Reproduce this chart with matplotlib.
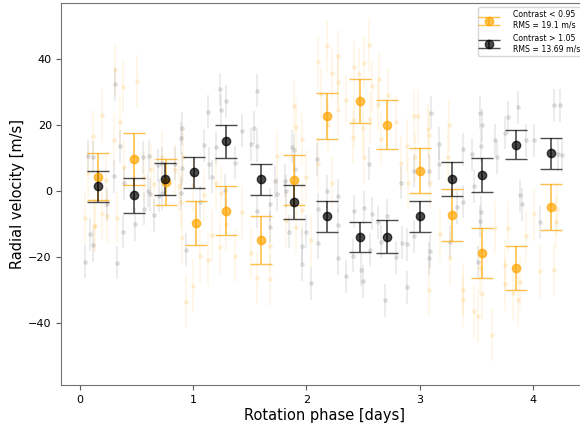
import numpy as np
import matplotlib
matplotlib.use("Agg")
import matplotlib.pyplot as plt

# binned RVs, low contrast (orange)
lo_phase = [0.165, 0.48, 0.76, 1.03, 1.29, 1.60, 1.89, 2.18, 2.47, 2.71, 3.00, 3.28, 3.55, 3.85, 4.16]
lo_rv = [4.5, 9.8, 2.8, -9.6, -5.8, -14.7, 3.5, 22.9, 27.5, 20.2, 6.3, -7.1, -18.7, -23.2, -4.8]
lo_err = [7.0, 8.0, 7.0, 6.8, 7.4, 7.3, 7.5, 6.9, 6.7, 7.4, 6.7, 7.9, 7.6, 6.7, 7.0]

# binned RVs, high contrast (dark)
hi_phase = [0.165, 0.48, 0.756, 1.01, 1.29, 1.60, 1.89, 2.18, 2.47, 2.71, 3.00, 3.28, 3.55, 3.85, 4.16]
hi_rv = [1.5, -1.2, 3.8, 5.8, 15.2, 3.6, -3.3, -7.6, -13.8, -13.8, -7.5, 3.7, 5.0, 14.2, 11.5]
hi_err = [4.8, 5.4, 4.8, 4.7, 5.0, 4.8, 5.1, 4.8, 4.6, 5.0, 4.7, 5.2, 5.1, 4.5, 4.7]

# individual RVs, low contrast
lo_pts_phase = [0.31, 0.38, 0.51, 0.20, 0.12, 0.30, 0.36, 0.39, 0.07, 0.23, 0.57, 0.63, 0.66, 0.73,
                0.84, 0.88, 0.91, 1.00, 1.10, 1.20, 1.25,
                2.18, 2.10, 2.28, 2.23, 2.28, 2.13, 2.19, 2.28, 2.35, 2.42, 2.46, 2.51, 2.55, 2.58,
                2.64, 2.63, 2.42, 2.41, 2.50, 2.56, 2.66, 2.72, 2.79, 2.51, 1.89, 1.91, 1.96, 1.74,
                2.10, 2.00, 2.23, 2.89, 2.83,
                2.95, 2.98, 3.07, 3.08, 3.26, 3.25, 2.96, 2.90, 3.09,
                0.05, 0.13, 0.14, 0.20, 0.24, 0.33, 0.89, 0.90, 1.00, 0.94, 1.06, 1.13, 1.17, 1.24,
                1.29, 1.37,
                1.43, 1.51, 1.56, 1.68, 1.68, 1.82, 1.91, 2.04, 1.96,
                3.08, 3.18, 3.27, 3.38, 3.38, 3.48, 3.51, 3.55, 3.64, 3.53, 3.66, 3.78, 3.75, 3.75,
                3.82, 3.87, 3.88, 3.94, 4.01, 4.06, 4.18, 4.20, 4.21]
lo_pts_rv = [36.8, 31.7, 33.4, 23.1, 16.8, 15.5, 21.0, 7.5, 5.6, 3.4, 4.4, 6.7, 2.2, 10.3,
             6.5, 1.6, 10.5, 1.8, -1.2, 2.4, -0.4,
             44.0, 39.2, 41.0, 35.9, 33.3, 29.5, 20.0, 24.8, 27.7, 37.6, 35.5, 39.0, 44.4, 31.9,
             34.2, 26.2, 21.6, 16.4, 19.2, 22.0, 15.8, 29.3, 21.0, 10.3, 25.8, 19.6, 15.9, 10.7,
             8.3, 4.4, 2.6, 13.9, 8.7,
             22.8, 22.8, 18.8, 17.0, 20.0, 10.5, 10.5, 2.6, 2.6,
             -8.0, -10.4, -10.4, -6.8, -7.6, -8.0, -3.1, -14.1, -28.6, -33.5, -19.7, -20.7, -13.2, -16.9,
             -10.0, -19.5,
             -6.4, -18.7, -26.2, -26.6, -16.5, -8.8, -10.8, -14.8, -5.6,
             -29.8, -13.0, -20.3, -29.8, -33.0, -36.3, -37.9, -31.0, -43.5, -23.3, -11.0, -11.0, -22.3, -28.2,
             -30.8, -32.8, -27.6, -13.6, -7.0, -24.2, -23.8, -9.4, -5.2]

# individual RVs, high contrast
hi_pts_phase = [0.07, 0.12, 0.31, 0.36, 0.30, 0.39, 0.56, 0.61, 0.60, 0.62, 0.69, 0.73, 0.73, 0.84,
                0.89, 0.90, 0.90, 0.89, 1.10, 1.13, 1.14, 1.17, 1.20, 1.24, 1.25, 1.29, 1.37, 1.28,
                1.56, 1.43, 1.54, 1.51, 1.56, 1.87, 1.89, 1.90, 1.72, 1.74, 1.82, 1.81, 2.09, 2.18,
                2.28, 2.55, 2.83,
                3.10, 3.17, 3.17, 2.95, 3.08, 3.38, 3.46, 3.53, 3.55, 3.54, 3.66, 3.68, 3.78, 3.75,
                3.87, 3.94, 4.01, 4.18, 4.24, 4.22, 4.25, 3.48, 3.88,
                0.05, 0.09, 0.12, 0.24, 0.33, 0.38, 0.49, 0.57, 0.66, 0.70, 0.94, 1.06,
                1.56, 1.68, 1.68, 1.85, 1.96, 1.96, 2.04, 2.00, 2.10, 2.10, 2.28, 2.28, 2.35, 2.41,
                2.42, 2.48, 2.50, 2.51, 2.56, 2.58, 2.63, 2.66, 2.69, 2.71, 2.79, 2.84, 2.89, 2.89,
                2.95, 3.08, 3.09, 3.27, 3.33, 3.38, 3.54, 3.53, 3.51, 3.90, 4.06]
hi_pts_rv = [10.7, 10.3, 32.5, 13.7, 4.6, 2.4, 10.3, 10.7, 0.2, -0.8, 7.9, 8.5, -0.5, 8.3,
             16.1, 19.1, 7.0, -0.6, 14.0, 24.2, 8.3, 4.4, 13.3, 30.9, 24.6, 27.3, 8.7, 0.4,
             30.5, 18.3, 19.3, 14.3, 13.9, 13.5, 12.5, 6.7, 3.0, -0.8, 0.0, 3.2, 9.7, 0.0,
             -1.3, 8.3, 2.6,
             23.8, 14.5, 8.3, 6.2, 6.2, 12.7, 11.3, 23.8, 20.0, 13.9, 15.5, 10.3, 22.4, 17.8,
             25.5, 15.5, 15.5, 26.1, 26.1, 11.3, 10.9, 1.6, -1.2,
             -21.3, -13.0, -16.3, -3.9, -21.7, -12.2, -10.0, -5.2, -7.2, -1.3, -17.7, -3.3,
             -6.0, -3.9, -10.8, -12.2, -16.5, -22.1, -27.8, -12.2, -15.5, -5.4, -10.2, -20.3, -25.8, -19.5,
             -6.0, -23.8, -27.2, -5.0, -17.7, -6.8, -9.4, -15.3, -33.0, -7.4, -19.9, -15.5, -16.1, -29.0,
             -13.6, -20.3, -18.1, -15.3, -4.8, -3.1, -6.4, -9.0, -21.5, -3.9, -9.4]

lo_pts_err = 8.0
hi_pts_err = 5.0

fig = plt.figure(figsize=(5.8, 4.26), dpi=100)
ax = fig.add_axes([0.106, 0.0962, 0.906, 0.896])

ax.errorbar(lo_pts_phase, lo_pts_rv, yerr=lo_pts_err, fmt='o', color='orange',
            ms=2.5, lw=1.2, alpha=0.1, zorder=1)
ax.errorbar(hi_pts_phase, hi_pts_rv, yerr=hi_pts_err, fmt='o', color='gray',
            ms=2.5, lw=1.2, alpha=0.18, zorder=1)

ax.errorbar(lo_phase, lo_rv, yerr=lo_err, fmt='o', color='orange', ms=6, lw=1.2,
            capsize=8, alpha=0.7, zorder=3,
            label='Contrast < 0.95\nRMS = 19.1 m/s')
ax.errorbar(hi_phase, hi_rv, yerr=hi_err, fmt='o', color='k', ms=6, lw=1.2,
            capsize=8, alpha=0.7, zorder=3,
            label='Contrast > 1.05\nRMS = 13.69 m/s')

ax.set_xlim(-0.16, 4.474)
ax.set_ylim(-58.7, 57.0)
ax.set_xticks([0, 1, 2, 3, 4])
ax.set_yticks([-40, -20, 0, 20, 40])
ax.tick_params(labelsize=8, color='0.35')
for s in ax.spines.values():
    s.set_color('0.45')
ax.set_xlabel('Rotation phase [days]', fontsize=10.5, labelpad=2)
ax.set_ylabel('Radial velocity [m/s]', fontsize=10.5, labelpad=2)
ax.legend(loc='upper right', fontsize=5.6, handletextpad=2.0)

fig.savefig('out.png', dpi=100)
